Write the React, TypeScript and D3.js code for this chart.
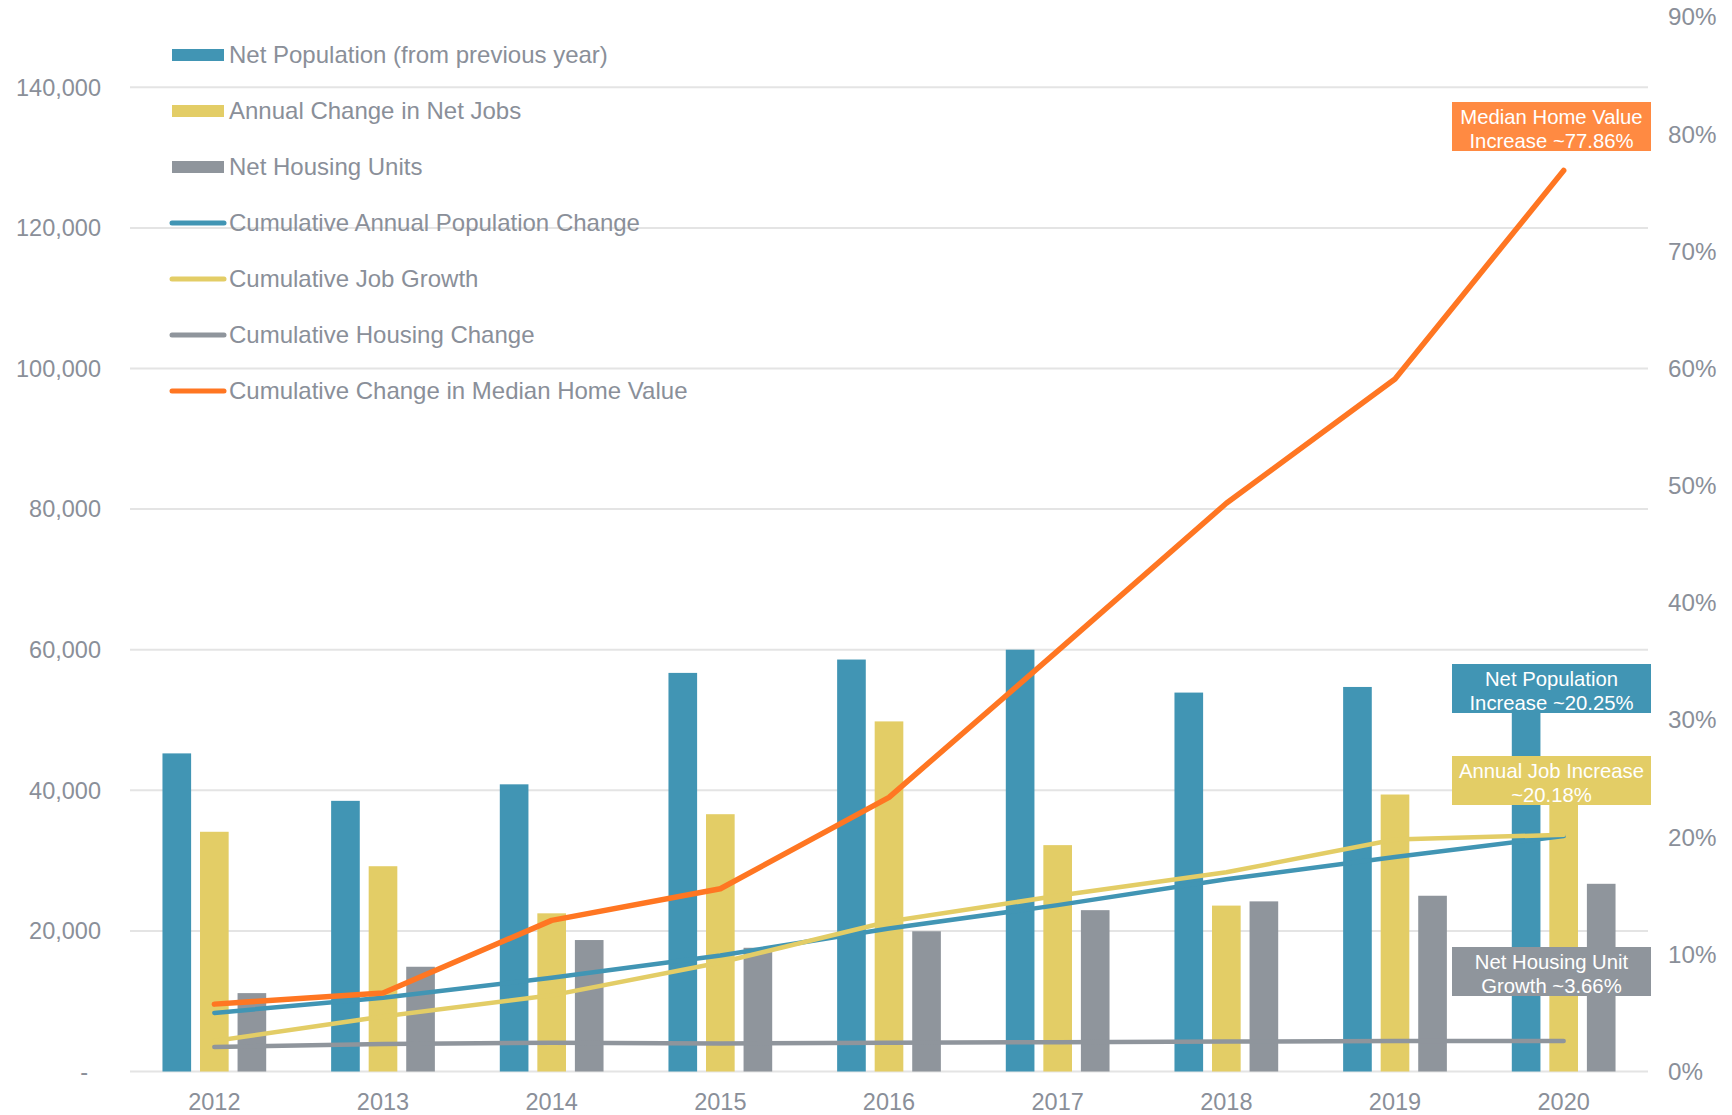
import React from 'react';
import * as d3 from 'd3';

const years = ['2012', '2013', '2014', '2015', '2016', '2017', '2018', '2019', '2020'];
const netPopulation = [45250, 38500, 40850, 56700, 58600, 60000, 53900, 54700, 52500];
const netJobs = [34100, 29200, 22500, 36600, 49800, 32200, 23600, 39400, 38500];
const netHousing = [11150, 14900, 18700, 17600, 19950, 22950, 24200, 25000, 26700];
const cumPopulation = [5.0, 6.3, 8.0, 9.9, 12.2, 14.2, 16.4, 18.3, 20.1];
const cumJobs = [2.6, 4.7, 6.5, 9.3, 12.8, 15.0, 17.0, 19.8, 20.2];
const cumHousing = [2.1, 2.35, 2.45, 2.4, 2.45, 2.5, 2.55, 2.6, 2.6];
const cumHomeValue = [5.75, 6.7, 12.9, 15.6, 23.4, 35.9, 48.5, 59.1, 76.9];
const leftTicks = [0, 20000, 40000, 60000, 80000, 100000, 120000, 140000];
const rightTicks = [0, 10, 20, 30, 40, 50, 60, 70, 80, 90];
const barSeries = ['Net Population (from previous year)', 'Annual Change in Net Jobs', 'Net Housing Units'];
const lineSeries = [
  'Cumulative Annual Population Change',
  'Cumulative Job Growth',
  'Cumulative Housing Change',
  'Cumulative Change in Median Home Value',
];
const annotationTexts = [
  ['Median Home Value', 'Increase ~77.86%'],
  ['Net Population', 'Increase ~20.25%'],
  ['Annual Job Increase', '~20.18%'],
  ['Net Housing Unit', 'Growth ~3.66%'],
];

const BLUE = '#4195b4';
const YELLOW = '#e3cd66';
const GRAY = '#8f959c';
const ORANGE = '#ff7622';
const ORANGE_BOX = '#ff8a42';
const TEXT = '#8a8f99';
const GRID = '#e4e4e4';
const FONT = '"Liberation Sans", Arial, Helvetica, sans-serif';

export default function App() {
  const W = 1732;
  const H = 1115;
  const x = d3.scaleBand<string>().domain(years).range([130, 1648]).padding(0);
  const step = x.step() * 0.2226;
  const x1 = d3
    .scaleBand<string>()
    .domain(barSeries)
    .range([x.bandwidth() / 2 - 1.5 * step, x.bandwidth() / 2 + 1.5 * step])
    .paddingInner(0.237)
    .paddingOuter(0.1185);
  const yL = d3.scaleLinear().domain([0, 150000]).range([1071.5, 17]);
  const yR = d3.scaleLinear().domain([0, 90]).range([1071.5, 17]);

  const barData = [netPopulation, netJobs, netHousing];
  const barColors = [BLUE, YELLOW, GRAY];
  const lineData = [cumPopulation, cumJobs, cumHousing, cumHomeValue];
  const lineColors = [BLUE, YELLOW, GRAY, ORANGE];
  const lineWidths = [4.5, 4.5, 4.5, 5.5];

  const lineGen = d3
    .line<number>()
    .x((_, i) => (x(years[i]) as number) + x.bandwidth() / 2)
    .y((d) => yR(d));

  const fmt = d3.format(',');
  const cx = (y: string) => (x(y) as number) + x.bandwidth() / 2;

  const boxX = 1452;
  const boxW = 199;
  const boxTops = [102, 664, 756, 947];
  const boxColors = [ORANGE_BOX, BLUE, YELLOW, GRAY];

  const legendItems = [
    ...barSeries.map((s, i) => ({ label: s, color: barColors[i], type: 'bar' })),
    ...lineSeries.map((s, i) => ({ label: s, color: lineColors[i], type: 'line' })),
  ];

  return (
    <svg
      width={W}
      height={H}
      style={{ position: 'absolute', left: 0, top: 0, background: '#fff' }}
      fontFamily={FONT}
    >
      <rect width={W} height={H} fill="#fff" />
      {leftTicks.map((t) => (
        <line key={t} x1={130} x2={1648} y1={yL(t)} y2={yL(t)} stroke={GRID} strokeWidth={2} />
      ))}
      {barData.map((arr, si) =>
        arr.map((v, i) => (
          <rect
            key={`${si}-${i}`}
            x={(x(years[i]) as number) + (x1(barSeries[si]) as number)}
            y={yL(v)}
            width={x1.bandwidth()}
            height={yL(0) - yL(v)}
            fill={barColors[si]}
          />
        ))
      )}
      {lineData.map((arr, li) => (
        <path
          key={li}
          d={lineGen(arr) as string}
          fill="none"
          stroke={lineColors[li]}
          strokeWidth={lineWidths[li]}
          strokeLinecap="round"
          strokeLinejoin="round"
        />
      ))}
      {legendItems.map((it, i) => {
        const yy = 55 + i * 56;
        return (
          <g key={it.label}>
            {it.type === 'bar' ? (
              <rect x={172} y={yy - 6} width={52} height={12} fill={it.color} />
            ) : (
              <line x1={172} x2={224} y1={yy} y2={yy} stroke={it.color} strokeWidth={5} strokeLinecap="round" />
            )}
            <text x={229} y={yy} dy="0.35em" fontSize={24} fill={TEXT}>
              {it.label}
            </text>
          </g>
        );
      })}
      {annotationTexts.map((lines, i) => (
        <g key={i}>
          <rect x={boxX} y={boxTops[i]} width={boxW} height={49} fill={boxColors[i]} />
          {lines.map((t, j) => (
            <text
              key={j}
              x={boxX + boxW / 2}
              y={boxTops[i] + 15 + j * 24}
              dy="0.35em"
              textAnchor="middle"
              fontSize={20.3}
              fill="#fff"
            >
              {t}
            </text>
          ))}
        </g>
      ))}
      {leftTicks.map((t) => (
        <text
          key={t}
          x={t === 0 ? 88 : 101}
          y={yL(t)}
          dy="0.35em"
          textAnchor="end"
          fontSize={23.5}
          fill={TEXT}
        >
          {t === 0 ? '-' : fmt(t)}
        </text>
      ))}
      {rightTicks.map((t) => (
        <text key={t} x={1668} y={yR(t)} dy="0.35em" fontSize={24.2} fill={TEXT}>
          {`${t}%`}
        </text>
      ))}
      {years.map((yv) => (
        <text key={yv} x={cx(yv)} y={1102} dy="0.35em" textAnchor="middle" fontSize={23.5} fill={TEXT}>
          {yv}
        </text>
      ))}
    </svg>
  );
}
